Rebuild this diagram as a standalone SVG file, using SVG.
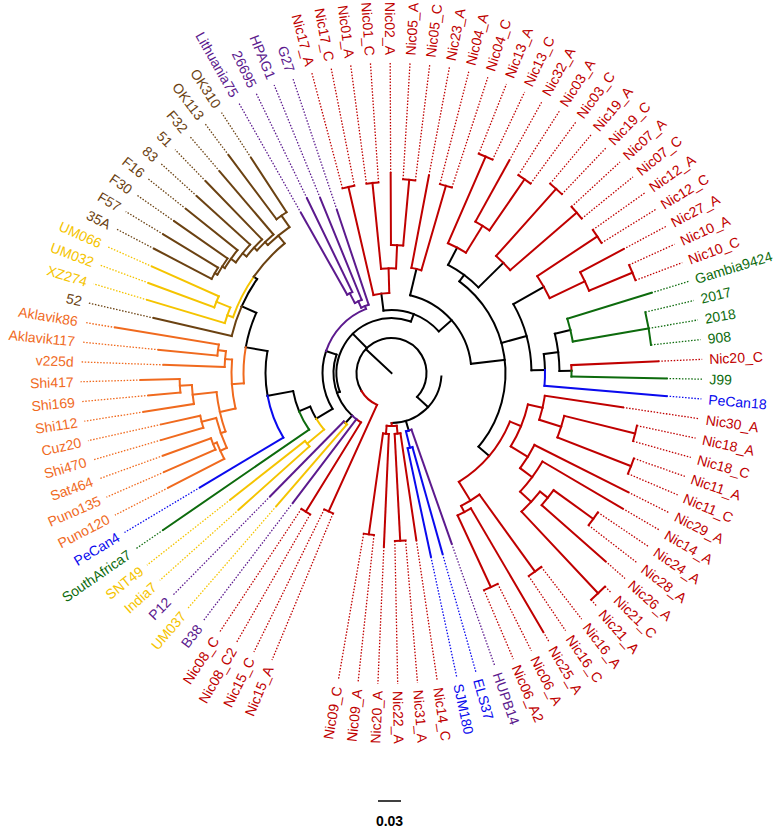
<svg xmlns="http://www.w3.org/2000/svg" width="778" height="834" viewBox="0 0 778 834">
<style>
text{font-family:"Liberation Sans",Arial,Helvetica,sans-serif;font-size:14px}
.e{text-anchor:end}
#edges path,#edges circle{fill:none;stroke-width:2;stroke-linecap:square}
#edges .d path{stroke-width:1.3;stroke-linecap:butt;stroke-dasharray:1.5 1.6}
.b{stroke:#000}.r{stroke:#c00000}.p{stroke:#5c1a8e}.w{stroke:#6b4212}.y{stroke:#f5c400}.o{stroke:#f06a1e}.g{stroke:#0d6b0d}.u{stroke:#0a0aee}
.R{fill:#c00000}.P{fill:#5c1a8e}.W{fill:#6b4212}.Y{fill:#f5c400}.O{fill:#f06a1e}.G{fill:#0d6b0d}.U{fill:#0a0aee}
</style>
<rect width="778" height="834" fill="#fff"/>
<g transform="translate(391.5 373)">
<g id="edges">
<g class="d">
<g class="r">
<path d="M152 0H311" transform="rotate(-247.4)"/><path d="M152 0H311" transform="rotate(-243.75)"/><path d="M163 0H311" transform="rotate(-240.09)"/><path d="M163 0H311" transform="rotate(-236.44)"/>
<path d="M191 0H311" transform="rotate(-104.86)"/><path d="M191 0H311" transform="rotate(-101.2)"/><path d="M191 0H311" transform="rotate(-97.55)"/><path d="M191 0H311" transform="rotate(-93.89)"/><path d="M200 0H311" transform="rotate(-90.24)"/><path d="M194 0H311" transform="rotate(-86.58)"/><path d="M194 0H311" transform="rotate(-82.93)"/><path d="M201 0H311" transform="rotate(-79.27)"/><path d="M195 0H311" transform="rotate(-75.62)"/><path d="M195 0H311" transform="rotate(-71.96)"/>
<path d="M236 0H311" transform="rotate(-68.31)"/><path d="M236 0H311" transform="rotate(-64.65)"/><path d="M243 0H311" transform="rotate(-61)"/><path d="M235 0H311" transform="rotate(-57.34)"/><path d="M235 0H311" transform="rotate(-53.69)"/><path d="M247 0H311" transform="rotate(-50.03)"/><path d="M247 0H311" transform="rotate(-46.38)"/><path d="M245 0H311" transform="rotate(-42.72)"/><path d="M245 0H311" transform="rotate(-39.07)"/><path d="M247 0H311" transform="rotate(-35.41)"/><path d="M247 0H311" transform="rotate(-31.76)"/><path d="M263 0H311" transform="rotate(-28.1)"/><path d="M261 0H311" transform="rotate(-24.45)"/><path d="M261 0H311" transform="rotate(-20.79)"/>
<path d="M267 0H311" transform="rotate(-2.52)"/>
<path d="M234 0H311" transform="rotate(8.45)"/><path d="M251 0H311" transform="rotate(12.1)"/><path d="M251 0H311" transform="rotate(15.76)"/><path d="M257 0H311" transform="rotate(19.41)"/><path d="M257 0H311" transform="rotate(23.07)"/><path d="M265 0H311" transform="rotate(26.72)"/><path d="M268 0H311" transform="rotate(30.38)"/><path d="M249 0H311" transform="rotate(34.03)"/><path d="M249 0H311" transform="rotate(37.69)"/><path d="M285 0H311" transform="rotate(41.34)"/><path d="M302 0H311" transform="rotate(45)"/><path d="M302 0H311" transform="rotate(48.65)"/><path d="M245 0H311" transform="rotate(52.31)"/><path d="M245 0H311" transform="rotate(55.96)"/><path d="M300 0H311" transform="rotate(59.62)"/><path d="M236 0H311" transform="rotate(63.27)"/><path d="M236 0H311" transform="rotate(66.93)"/>
<path d="M169 0H311" transform="rotate(81.55)"/><path d="M168 0H311" transform="rotate(85.2)"/><path d="M168 0H311" transform="rotate(88.86)"/><path d="M174 0H311" transform="rotate(92.51)"/><path d="M163 0H311" transform="rotate(96.17)"/><path d="M163 0H311" transform="rotate(99.82)"/>
</g>
<g class="p"><path d="M163 0H311" transform="rotate(-232.78)"/><path d="M173 0H311" transform="rotate(-225.47)"/><path d="M184 0H311" transform="rotate(-119.48)"/><path d="M194 0H311" transform="rotate(-115.82)"/><path d="M189 0H311" transform="rotate(-112.17)"/><path d="M172 0H311" transform="rotate(-108.51)"/><path d="M181 0H311" transform="rotate(70.58)"/></g>
<g class="y"><path d="M176 0H311" transform="rotate(-229.13)"/><path d="M205 0H311" transform="rotate(-221.82)"/><path d="M205 0H311" transform="rotate(-218.16)"/><path d="M255 0H311" transform="rotate(-163.34)"/><path d="M259 0H311" transform="rotate(-159.68)"/><path d="M262 0H311" transform="rotate(-156.03)"/></g>
<g class="g"><path d="M277 0H311" transform="rotate(-214.51)"/><path d="M272 0H311" transform="rotate(-17.14)"/><path d="M261 0H311" transform="rotate(-13.48)"/><path d="M261 0H311" transform="rotate(-9.83)"/><path d="M261 0H311" transform="rotate(-6.17)"/><path d="M275 0H311" transform="rotate(1.14)"/></g>
<g class="u"><path d="M223 0H311" transform="rotate(-210.85)"/><path d="M276 0H311" transform="rotate(4.79)"/><path d="M188 0H311" transform="rotate(74.24)"/><path d="M188 0H311" transform="rotate(77.89)"/></g>
<g class="o"><path d="M251 0H311" transform="rotate(-207.2)"/><path d="M248 0H311" transform="rotate(-203.54)"/><path d="M243 0H311" transform="rotate(-199.89)"/><path d="M240 0H311" transform="rotate(-196.23)"/><path d="M236 0H311" transform="rotate(-192.58)"/><path d="M251 0H311" transform="rotate(-188.92)"/><path d="M244 0H311" transform="rotate(-185.27)"/><path d="M251 0H311" transform="rotate(-181.61)"/><path d="M228 0H311" transform="rotate(-177.96)"/><path d="M234 0H311" transform="rotate(-174.3)"/><path d="M280 0H311" transform="rotate(-170.65)"/></g>
<g class="w"><path d="M244 0H311" transform="rotate(-166.99)"/><path d="M268 0H311" transform="rotate(-152.37)"/><path d="M267 0H311" transform="rotate(-148.72)"/><path d="M265 0H311" transform="rotate(-145.06)"/><path d="M263 0H311" transform="rotate(-141.41)"/><path d="M263 0H311" transform="rotate(-137.75)"/><path d="M267 0H311" transform="rotate(-134.1)"/><path d="M265 0H311" transform="rotate(-130.44)"/><path d="M272 0H311" transform="rotate(-126.79)"/><path d="M257 0H311" transform="rotate(-123.13)"/></g>
</g>
<g class="b">
<path d="M0 0H35" transform="rotate(-137)"/>
<circle r="35" pathLength="360" stroke-dasharray="253.7 999" transform="rotate(-210.7)"/>
<path d="M35 0H55" transform="rotate(-134.65)"/>
<circle r="55" pathLength="360" stroke-dasharray="130.7 999" transform="rotate(-200)"/>
<path d="M55 0H58" transform="rotate(-200)"/>
<circle r="58" pathLength="360" stroke-dasharray="65.8 999" transform="rotate(-227.3)"/>
<path d="M58 0H68" transform="rotate(-227.3)"/>
<path d="M58 0H69" transform="rotate(-161.5)"/>
<circle r="69" pathLength="360" stroke-dasharray="49.75 999" transform="rotate(-211.25)"/>
<path d="M69 0H88" transform="rotate(-211.25)"/>
<circle r="88" pathLength="360" stroke-dasharray="8.79 999" transform="rotate(-211.25)"/>
<path d="M88 0H100" transform="rotate(-202.46)"/>
<circle r="100" pathLength="360" stroke-dasharray="12.06 999" transform="rotate(-202.46)"/>
<path d="M100 0H126" transform="rotate(-190.4)"/>
<circle r="126" pathLength="360" stroke-dasharray="20.4 999" transform="rotate(-190.4)"/>
<path d="M126 0H148" transform="rotate(-170)"/>
<circle r="148" pathLength="360" stroke-dasharray="14 999" transform="rotate(-170)"/>
<path d="M148 0H164" transform="rotate(-156)"/>
<circle r="164" pathLength="360" stroke-dasharray="10.95 999" transform="rotate(-156)"/>
<path d="M164 0H168" transform="rotate(-145.05)"/>
<path d="M55 0H63" transform="rotate(-69.3)"/>
<circle r="63" pathLength="360" stroke-dasharray="56 999" transform="rotate(-97.3)"/>
<path d="M63 0H80" transform="rotate(-97.3)"/>
<path d="M63 0H80" transform="rotate(-41.3)"/>
<circle r="80" pathLength="360" stroke-dasharray="69.93 999" transform="rotate(-76.53)"/>
<path d="M80 0H107" transform="rotate(-76.53)"/>
<path d="M80 0H114" transform="rotate(-6.6)"/>
<circle r="114" pathLength="360" stroke-dasharray="93.76 999" transform="rotate(-53.46)"/>
<path d="M114 0H122" transform="rotate(-53.46)"/>
<circle r="122" pathLength="360" stroke-dasharray="17.82 999" transform="rotate(-62.37)"/>
<path d="M122 0H141.5" transform="rotate(-62.37)"/>
<path d="M122 0H157" transform="rotate(-44.55)"/>
<path d="M114 0H140" transform="rotate(-15.3)"/>
<circle r="140" pathLength="360" stroke-dasharray="28.32 999" transform="rotate(-29.47)"/>
<path d="M140 0H175" transform="rotate(-29.47)"/>
<path d="M140 0H153.5" transform="rotate(-1.15)"/>
<circle r="153.5" pathLength="360" stroke-dasharray="5.95 999" transform="rotate(-7.1)"/>
<path d="M153.5 0H168" transform="rotate(-7.1)"/>
<circle r="168" pathLength="360" stroke-dasharray="12.81 999" transform="rotate(-13.5)"/>
<path d="M168 0H184" transform="rotate(-13.5)"/>
<path d="M168 0H180" transform="rotate(-0.69)"/>
<path d="M114 0H128" transform="rotate(40.3)"/>
<path d="M35 0H50" transform="rotate(43)"/>
<circle r="50" pathLength="360" stroke-dasharray="85.8 999" transform="rotate(4)"/>
<path d="M50 0H60" transform="rotate(73.3)"/>
</g>
<g class="r">
<circle r="35" pathLength="360" stroke-dasharray="34.88 999" transform="rotate(-245.58)"/>
<path d="M35 0H152" transform="rotate(-245.58)"/>
<circle r="152" pathLength="360" stroke-dasharray="3.65 999" transform="rotate(-247.4)"/>
<circle r="58" pathLength="360" stroke-dasharray="5.49 999" transform="rotate(-238.27)"/>
<path d="M58 0H163" transform="rotate(-238.27)"/>
<circle r="163" pathLength="360" stroke-dasharray="3.65 999" transform="rotate(-240.09)"/>
<circle r="80" pathLength="360" stroke-dasharray="11.43 999" transform="rotate(-103.03)"/>
<path d="M80 0H191" transform="rotate(-103.03)"/>
<circle r="191" pathLength="360" stroke-dasharray="3.66 999" transform="rotate(-104.86)"/>
<path d="M80 0H104.7" transform="rotate(-91.6)"/>
<circle r="104.7" pathLength="360" stroke-dasharray="8.22 999" transform="rotate(-95.72)"/>
<path d="M104.7 0H191" transform="rotate(-95.72)"/>
<circle r="191" pathLength="360" stroke-dasharray="3.66 999" transform="rotate(-97.55)"/>
<path d="M104.7 0H128" transform="rotate(-87.5)"/>
<circle r="128" pathLength="360" stroke-dasharray="5.48 999" transform="rotate(-90.24)"/>
<path d="M128 0H200" transform="rotate(-90.24)"/>
<path d="M128 0H194" transform="rotate(-84.76)"/>
<circle r="194" pathLength="360" stroke-dasharray="3.65 999" transform="rotate(-86.58)"/>
<circle r="107" pathLength="360" stroke-dasharray="5.48 999" transform="rotate(-79.27)"/>
<path d="M107 0H201" transform="rotate(-79.27)"/>
<path d="M107 0H195" transform="rotate(-73.79)"/>
<circle r="195" pathLength="360" stroke-dasharray="3.66 999" transform="rotate(-75.62)"/>
<circle r="141.5" pathLength="360" stroke-dasharray="8.22 999" transform="rotate(-66.48)"/>
<path d="M141.5 0H236" transform="rotate(-66.48)"/>
<circle r="236" pathLength="360" stroke-dasharray="3.66 999" transform="rotate(-68.31)"/>
<path d="M141.5 0H173" transform="rotate(-58.26)"/>
<circle r="173" pathLength="360" stroke-dasharray="5.48 999" transform="rotate(-61)"/>
<path d="M173 0H243" transform="rotate(-61)"/>
<path d="M173 0H235" transform="rotate(-55.52)"/>
<circle r="235" pathLength="360" stroke-dasharray="3.65 999" transform="rotate(-57.34)"/>
<circle r="157" pathLength="360" stroke-dasharray="7.31 999" transform="rotate(-48.21)"/>
<path d="M157 0H247" transform="rotate(-48.21)"/>
<circle r="247" pathLength="360" stroke-dasharray="3.65 999" transform="rotate(-50.03)"/>
<path d="M157 0H245" transform="rotate(-40.9)"/>
<circle r="245" pathLength="360" stroke-dasharray="3.65 999" transform="rotate(-42.72)"/>
<circle r="175" pathLength="360" stroke-dasharray="8.22 999" transform="rotate(-33.58)"/>
<path d="M175 0H247" transform="rotate(-33.58)"/>
<circle r="247" pathLength="360" stroke-dasharray="3.65 999" transform="rotate(-35.41)"/>
<path d="M175 0H214" transform="rotate(-25.36)"/>
<circle r="214" pathLength="360" stroke-dasharray="5.48 999" transform="rotate(-28.1)"/>
<path d="M214 0H263" transform="rotate(-28.1)"/>
<path d="M214 0H261" transform="rotate(-22.62)"/>
<circle r="261" pathLength="360" stroke-dasharray="3.66 999" transform="rotate(-24.45)"/>
<circle r="180" pathLength="360" stroke-dasharray="1.83 999" transform="rotate(-2.52)"/>
<path d="M180 0H267" transform="rotate(-2.52)"/>
<circle r="128" pathLength="360" stroke-dasharray="35.95 999" transform="rotate(22.3)"/>
<path d="M128 0H140" transform="rotate(22.3)"/>
<circle r="140" pathLength="360" stroke-dasharray="18.6 999" transform="rotate(13)"/>
<path d="M140 0H155" transform="rotate(13)"/>
<circle r="155" pathLength="360" stroke-dasharray="9.13 999" transform="rotate(8.45)"/>
<path d="M155 0H234" transform="rotate(8.45)"/>
<path d="M155 0H178" transform="rotate(17.58)"/>
<circle r="178" pathLength="360" stroke-dasharray="7.31 999" transform="rotate(13.93)"/>
<path d="M178 0H251" transform="rotate(13.93)"/>
<circle r="251" pathLength="360" stroke-dasharray="3.66 999" transform="rotate(12.1)"/>
<path d="M178 0H257" transform="rotate(21.24)"/>
<circle r="257" pathLength="360" stroke-dasharray="3.66 999" transform="rotate(19.41)"/>
<path d="M140 0H160" transform="rotate(31.6)"/>
<circle r="160" pathLength="360" stroke-dasharray="9.78 999" transform="rotate(26.72)"/>
<path d="M160 0H265" transform="rotate(26.72)"/>
<path d="M160 0H175" transform="rotate(36.5)"/>
<circle r="175" pathLength="360" stroke-dasharray="12.32 999" transform="rotate(30.38)"/>
<path d="M175 0H268" transform="rotate(30.38)"/>
<path d="M175 0H190" transform="rotate(42.7)"/>
<circle r="190" pathLength="360" stroke-dasharray="8.23 999" transform="rotate(38.6)"/>
<path d="M190 0H302" transform="rotate(46.83)"/>
<circle r="302" pathLength="360" stroke-dasharray="3.65 999" transform="rotate(45)"/>
<path d="M190 0H200" transform="rotate(38.6)"/>
<circle r="200" pathLength="360" stroke-dasharray="5.48 999" transform="rotate(35.86)"/>
<path d="M200 0H249" transform="rotate(35.86)"/>
<circle r="249" pathLength="360" stroke-dasharray="3.66 999" transform="rotate(34.03)"/>
<path d="M200 0H285" transform="rotate(41.34)"/>
<path d="M128 0H150" transform="rotate(58.25)"/>
<circle r="150" pathLength="360" stroke-dasharray="8.22 999" transform="rotate(54.14)"/>
<path d="M150 0H245" transform="rotate(54.14)"/>
<circle r="245" pathLength="360" stroke-dasharray="3.65 999" transform="rotate(52.31)"/>
<path d="M150 0H157" transform="rotate(62.36)"/>
<circle r="157" pathLength="360" stroke-dasharray="5.48 999" transform="rotate(59.62)"/>
<path d="M157 0H300" transform="rotate(59.62)"/>
<path d="M157 0H236" transform="rotate(65.1)"/>
<circle r="236" pathLength="360" stroke-dasharray="3.66 999" transform="rotate(63.27)"/>
<path d="M50 0H53" transform="rotate(89.8)"/>
<circle r="53" pathLength="360" stroke-dasharray="10.95 999" transform="rotate(84.3)"/>
<path d="M53 0H61" transform="rotate(95.25)"/>
<circle r="61" pathLength="360" stroke-dasharray="5.49 999" transform="rotate(92.51)"/>
<path d="M61 0H174" transform="rotate(92.51)"/>
<path d="M61 0H163" transform="rotate(98)"/>
<circle r="163" pathLength="360" stroke-dasharray="3.65 999" transform="rotate(96.17)"/>
<path d="M53 0H61" transform="rotate(84.3)"/>
<circle r="61" pathLength="360" stroke-dasharray="5.48 999" transform="rotate(81.55)"/>
<path d="M61 0H169" transform="rotate(81.55)"/>
<path d="M61 0H168" transform="rotate(87.03)"/>
<circle r="168" pathLength="360" stroke-dasharray="3.66 999" transform="rotate(85.2)"/>
</g>
<g class="p">
<circle r="58" pathLength="360" stroke-dasharray="5.48 999" transform="rotate(-232.78)"/>
<path d="M58 0H163" transform="rotate(-232.78)"/>
<circle r="68" pathLength="360" stroke-dasharray="1.83 999" transform="rotate(-227.3)"/>
<path d="M68 0H173" transform="rotate(-225.47)"/>
<circle r="69" pathLength="360" stroke-dasharray="49.8 999" transform="rotate(-161.5)"/>
<path d="M69 0H72" transform="rotate(-111.7)"/>
<circle r="72" pathLength="360" stroke-dasharray="6.39 999" transform="rotate(-114.9)"/>
<path d="M72 0H172" transform="rotate(-108.51)"/>
<path d="M72 0H79" transform="rotate(-114.9)"/>
<circle r="79" pathLength="360" stroke-dasharray="5.48 999" transform="rotate(-117.65)"/>
<path d="M79 0H189" transform="rotate(-112.17)"/>
<path d="M79 0H90" transform="rotate(-117.65)"/>
<circle r="90" pathLength="360" stroke-dasharray="3.66 999" transform="rotate(-119.48)"/>
<path d="M90 0H184" transform="rotate(-119.48)"/>
<path d="M90 0H194" transform="rotate(-115.82)"/>
<circle r="60" pathLength="360" stroke-dasharray="2.72 999" transform="rotate(70.58)"/>
<path d="M60 0H181" transform="rotate(70.58)"/>
</g>
<g class="y">
<circle r="68" pathLength="360" stroke-dasharray="1.83 999" transform="rotate(-229.13)"/>
<path d="M68 0H176" transform="rotate(-229.13)"/>
<circle r="88" pathLength="360" stroke-dasharray="8.74 999" transform="rotate(-219.99)"/>
<path d="M88 0H110" transform="rotate(-219.99)"/>
<circle r="110" pathLength="360" stroke-dasharray="3.66 999" transform="rotate(-221.82)"/>
<path d="M110 0H205" transform="rotate(-221.82)"/>
<path d="M110 0H205" transform="rotate(-218.16)"/>
<circle r="168" pathLength="360" stroke-dasharray="15.55 999" transform="rotate(-160.6)"/>
<path d="M168 0H174" transform="rotate(-160.6)"/>
<circle r="174" pathLength="360" stroke-dasharray="5.48 999" transform="rotate(-163.34)"/>
<path d="M174 0H255" transform="rotate(-163.34)"/>
<path d="M174 0H189" transform="rotate(-157.86)"/>
<circle r="189" pathLength="360" stroke-dasharray="3.65 999" transform="rotate(-159.68)"/>
<path d="M189 0H259" transform="rotate(-159.68)"/>
<path d="M189 0H262" transform="rotate(-156.03)"/>
</g>
<g class="g">
<circle r="100" pathLength="360" stroke-dasharray="12.05 999" transform="rotate(-214.51)"/>
<path d="M100 0H277" transform="rotate(-214.51)"/>
<circle r="184" pathLength="360" stroke-dasharray="7.31 999" transform="rotate(-17.14)"/>
<path d="M184 0H272" transform="rotate(-17.14)"/>
<path d="M184 0H261" transform="rotate(-9.83)"/>
<circle r="261" pathLength="360" stroke-dasharray="7.31 999" transform="rotate(-13.48)"/>
<circle r="180" pathLength="360" stroke-dasharray="1.83 999" transform="rotate(-0.69)"/>
<path d="M180 0H275" transform="rotate(1.14)"/>
</g>
<g class="u">
<circle r="126" pathLength="360" stroke-dasharray="20.45 999" transform="rotate(-210.85)"/>
<path d="M126 0H223" transform="rotate(-210.85)"/>
<circle r="153.5" pathLength="360" stroke-dasharray="5.94 999" transform="rotate(-1.15)"/>
<path d="M153.5 0H276" transform="rotate(4.79)"/>
<circle r="60" pathLength="360" stroke-dasharray="2.77 999" transform="rotate(73.3)"/>
<path d="M60 0H77" transform="rotate(76.07)"/>
<circle r="77" pathLength="360" stroke-dasharray="3.65 999" transform="rotate(74.24)"/>
<path d="M77 0H188" transform="rotate(74.24)"/>
<path d="M77 0H188" transform="rotate(77.89)"/>
</g>
<g class="o">
<circle r="148" pathLength="360" stroke-dasharray="14 999" transform="rotate(-184)"/>
<path d="M148 0H160" transform="rotate(-184)"/>
<circle r="160" pathLength="360" stroke-dasharray="17.6 999" transform="rotate(-192.8)"/>
<path d="M160 0H176" transform="rotate(-192.8)"/>
<circle r="176" pathLength="360" stroke-dasharray="13.2 999" transform="rotate(-199.4)"/>
<path d="M176 0H181" transform="rotate(-199.4)"/>
<circle r="181" pathLength="360" stroke-dasharray="10.05 999" transform="rotate(-204.45)"/>
<path d="M181 0H188" transform="rotate(-204.45)"/>
<circle r="188" pathLength="360" stroke-dasharray="5.5 999" transform="rotate(-207.2)"/>
<path d="M188 0H251" transform="rotate(-207.2)"/>
<path d="M188 0H192" transform="rotate(-201.7)"/>
<circle r="192" pathLength="360" stroke-dasharray="3.65 999" transform="rotate(-203.54)"/>
<path d="M192 0H248" transform="rotate(-203.54)"/>
<path d="M192 0H243" transform="rotate(-199.89)"/>
<path d="M181 0H196" transform="rotate(-194.4)"/>
<circle r="196" pathLength="360" stroke-dasharray="3.65 999" transform="rotate(-196.23)"/>
<path d="M196 0H240" transform="rotate(-196.23)"/>
<path d="M196 0H236" transform="rotate(-192.58)"/>
<path d="M176 0H200" transform="rotate(-186.2)"/>
<circle r="200" pathLength="360" stroke-dasharray="5.48 999" transform="rotate(-188.92)"/>
<path d="M200 0H251" transform="rotate(-188.92)"/>
<path d="M200 0H212" transform="rotate(-183.44)"/>
<circle r="212" pathLength="360" stroke-dasharray="3.66 999" transform="rotate(-185.27)"/>
<path d="M212 0H244" transform="rotate(-185.27)"/>
<path d="M212 0H251" transform="rotate(-181.61)"/>
<path d="M160 0H167" transform="rotate(-175.2)"/>
<circle r="167" pathLength="360" stroke-dasharray="5.46 999" transform="rotate(-177.96)"/>
<path d="M167 0H228" transform="rotate(-177.96)"/>
<path d="M167 0H175" transform="rotate(-172.5)"/>
<circle r="175" pathLength="360" stroke-dasharray="3.65 999" transform="rotate(-174.3)"/>
<path d="M175 0H234" transform="rotate(-174.3)"/>
<path d="M175 0H280" transform="rotate(-170.65)"/>
</g>
<g class="w">
<circle r="164" pathLength="360" stroke-dasharray="10.99 999" transform="rotate(-166.99)"/>
<path d="M164 0H244" transform="rotate(-166.99)"/>
<circle r="168" pathLength="360" stroke-dasharray="15.55 999" transform="rotate(-145.05)"/>
<path d="M168 0H178" transform="rotate(-129.5)"/>
<circle r="178" pathLength="360" stroke-dasharray="9.04 999" transform="rotate(-134)"/>
<path d="M178 0H192" transform="rotate(-124.96)"/>
<circle r="192" pathLength="360" stroke-dasharray="3.66 999" transform="rotate(-126.79)"/>
<path d="M192 0H272" transform="rotate(-126.79)"/>
<path d="M192 0H257" transform="rotate(-123.13)"/>
<path d="M178 0H182" transform="rotate(-134)"/>
<circle r="182" pathLength="360" stroke-dasharray="7.21 999" transform="rotate(-137.65)"/>
<path d="M182 0H265" transform="rotate(-130.44)"/>
<path d="M182 0H186" transform="rotate(-137.65)"/>
<circle r="186" pathLength="360" stroke-dasharray="7.1 999" transform="rotate(-141.2)"/>
<path d="M186 0H267" transform="rotate(-134.1)"/>
<path d="M186 0H191" transform="rotate(-141.2)"/>
<circle r="191" pathLength="360" stroke-dasharray="6.85 999" transform="rotate(-144.6)"/>
<path d="M191 0H263" transform="rotate(-137.75)"/>
<path d="M191 0H197" transform="rotate(-144.6)"/>
<circle r="197" pathLength="360" stroke-dasharray="6.39 999" transform="rotate(-147.8)"/>
<path d="M197 0H263" transform="rotate(-141.41)"/>
<path d="M197 0H200" transform="rotate(-147.8)"/>
<circle r="200" pathLength="360" stroke-dasharray="5.49 999" transform="rotate(-150.55)"/>
<path d="M200 0H265" transform="rotate(-145.06)"/>
<path d="M200 0H203" transform="rotate(-150.55)"/>
<circle r="203" pathLength="360" stroke-dasharray="3.65 999" transform="rotate(-152.37)"/>
<path d="M203 0H268" transform="rotate(-152.37)"/>
<path d="M203 0H267" transform="rotate(-148.72)"/>
</g>
</g>
<g id="labels">
<g id="t-Nic15_A"><text class="R e" transform="rotate(-67.4)" x="-318" dy="5">Nic15_A</text></g>
<g id="t-Nic15_C"><text class="R e" transform="rotate(-63.75)" x="-318" dy="5">Nic15_C</text></g>
<g id="t-Nic08_C2"><text class="R e" transform="rotate(-60.09)" x="-318" dy="5">Nic08_C2</text></g>
<g id="t-Nic08_C"><text class="R e" transform="rotate(-56.44)" x="-318" dy="5">Nic08_C</text></g>
<g id="t-B38"><text class="P e" transform="rotate(-52.78)" x="-318" dy="5">B38</text></g>
<g id="t-UM037"><text class="Y e" transform="rotate(-49.13)" x="-318" dy="5">UM037</text></g>
<g id="t-P12"><text class="P e" transform="rotate(-45.47)" x="-318" dy="5">P12</text></g>
<g id="t-India7"><text class="Y e" transform="rotate(-41.82)" x="-318" dy="5">India7</text></g>
<g id="t-SNT49"><text class="Y e" transform="rotate(-38.16)" x="-318" dy="5">SNT49</text></g>
<g id="t-SouthAfrica7"><text class="G e" transform="rotate(-34.51)" x="-318" dy="5">SouthAfrica7</text></g>
<g id="t-PeCan4"><text class="U e" transform="rotate(-30.85)" x="-318" dy="5">PeCan4</text></g>
<g id="t-Puno120"><text class="O e" transform="rotate(-27.2)" x="-318" dy="5">Puno120</text></g>
<g id="t-Puno135"><text class="O e" transform="rotate(-23.54)" x="-318" dy="5">Puno135</text></g>
<g id="t-Sat464"><text class="O e" transform="rotate(-19.89)" x="-318" dy="5">Sat464</text></g>
<g id="t-Shi470"><text class="O e" transform="rotate(-16.23)" x="-318" dy="5">Shi470</text></g>
<g id="t-Cuz20"><text class="O e" transform="rotate(-12.58)" x="-318" dy="5">Cuz20</text></g>
<g id="t-Shi112"><text class="O e" transform="rotate(-8.92)" x="-318" dy="5">Shi112</text></g>
<g id="t-Shi169"><text class="O e" transform="rotate(-5.27)" x="-318" dy="5">Shi169</text></g>
<g id="t-Shi417"><text class="O e" transform="rotate(-1.61)" x="-318" dy="5">Shi417</text></g>
<g id="t-v225d"><text class="O e" transform="rotate(2.04)" x="-318" dy="5">v225d</text></g>
<g id="t-Aklavik117"><text class="O e" transform="rotate(5.7)" x="-318" dy="5">Aklavik117</text></g>
<g id="t-Aklavik86"><text class="O e" transform="rotate(9.35)" x="-318" dy="5">Aklavik86</text></g>
<g id="t-52"><text class="W e" transform="rotate(13.01)" x="-318" dy="5">52</text></g>
<g id="t-XZ274"><text class="Y e" transform="rotate(16.66)" x="-318" dy="5">XZ274</text></g>
<g id="t-UM032"><text class="Y e" transform="rotate(20.32)" x="-318" dy="5">UM032</text></g>
<g id="t-UM066"><text class="Y e" transform="rotate(23.97)" x="-318" dy="5">UM066</text></g>
<g id="t-35A"><text class="W e" transform="rotate(27.63)" x="-318" dy="5">35A</text></g>
<g id="t-F57"><text class="W e" transform="rotate(31.28)" x="-318" dy="5">F57</text></g>
<g id="t-F30"><text class="W e" transform="rotate(34.94)" x="-318" dy="5">F30</text></g>
<g id="t-F16"><text class="W e" transform="rotate(38.59)" x="-318" dy="5">F16</text></g>
<g id="t-83"><text class="W e" transform="rotate(42.25)" x="-318" dy="5">83</text></g>
<g id="t-51"><text class="W e" transform="rotate(45.9)" x="-318" dy="5">51</text></g>
<g id="t-F32"><text class="W e" transform="rotate(49.56)" x="-318" dy="5">F32</text></g>
<g id="t-OK113"><text class="W e" transform="rotate(53.21)" x="-318" dy="5">OK113</text></g>
<g id="t-OK310"><text class="W e" transform="rotate(56.87)" x="-318" dy="5">OK310</text></g>
<g id="t-Lithuania75"><text class="P e" transform="rotate(60.52)" x="-318" dy="5">Lithuania75</text></g>
<g id="t-26695"><text class="P e" transform="rotate(64.18)" x="-318" dy="5">26695</text></g>
<g id="t-HPAG1"><text class="P e" transform="rotate(67.83)" x="-318" dy="5">HPAG1</text></g>
<g id="t-G27"><text class="P e" transform="rotate(71.49)" x="-318" dy="5">G27</text></g>
<g id="t-Nic17_A"><text class="R e" transform="rotate(75.14)" x="-318" dy="5">Nic17_A</text></g>
<g id="t-Nic17_C"><text class="R e" transform="rotate(78.8)" x="-318" dy="5">Nic17_C</text></g>
<g id="t-Nic01_A"><text class="R e" transform="rotate(82.45)" x="-318" dy="5">Nic01_A</text></g>
<g id="t-Nic01_C"><text class="R e" transform="rotate(86.11)" x="-318" dy="5">Nic01_C</text></g>
<g id="t-Nic02_A"><text class="R e" transform="rotate(89.76)" x="-318" dy="5">Nic02_A</text></g>
<g id="t-Nic05_A"><text class="R" transform="rotate(-86.58)" x="318" dy="5">Nic05_A</text></g>
<g id="t-Nic05_C"><text class="R" transform="rotate(-82.93)" x="318" dy="5">Nic05_C</text></g>
<g id="t-Nic23_A"><text class="R" transform="rotate(-79.27)" x="318" dy="5">Nic23_A</text></g>
<g id="t-Nic04_A"><text class="R" transform="rotate(-75.62)" x="318" dy="5">Nic04_A</text></g>
<g id="t-Nic04_C"><text class="R" transform="rotate(-71.96)" x="318" dy="5">Nic04_C</text></g>
<g id="t-Nic13_A"><text class="R" transform="rotate(-68.31)" x="318" dy="5">Nic13_A</text></g>
<g id="t-Nic13_C"><text class="R" transform="rotate(-64.65)" x="318" dy="5">Nic13_C</text></g>
<g id="t-Nic32_A"><text class="R" transform="rotate(-61)" x="318" dy="5">Nic32_A</text></g>
<g id="t-Nic03_A"><text class="R" transform="rotate(-57.34)" x="318" dy="5">Nic03_A</text></g>
<g id="t-Nic03_C"><text class="R" transform="rotate(-53.69)" x="318" dy="5">Nic03_C</text></g>
<g id="t-Nic19_A"><text class="R" transform="rotate(-50.03)" x="318" dy="5">Nic19_A</text></g>
<g id="t-Nic19_C"><text class="R" transform="rotate(-46.38)" x="318" dy="5">Nic19_C</text></g>
<g id="t-Nic07_A"><text class="R" transform="rotate(-42.72)" x="318" dy="5">Nic07_A</text></g>
<g id="t-Nic07_C"><text class="R" transform="rotate(-39.07)" x="318" dy="5">Nic07_C</text></g>
<g id="t-Nic12_A"><text class="R" transform="rotate(-35.41)" x="318" dy="5">Nic12_A</text></g>
<g id="t-Nic12_C"><text class="R" transform="rotate(-31.76)" x="318" dy="5">Nic12_C</text></g>
<g id="t-Nic27_A"><text class="R" transform="rotate(-28.1)" x="318" dy="5">Nic27_A</text></g>
<g id="t-Nic10_A"><text class="R" transform="rotate(-24.45)" x="318" dy="5">Nic10_A</text></g>
<g id="t-Nic10_C"><text class="R" transform="rotate(-20.79)" x="318" dy="5">Nic10_C</text></g>
<g id="t-Gambia9424"><text class="G" transform="rotate(-17.14)" x="318" dy="5">Gambia9424</text></g>
<g id="t-2017"><text class="G" transform="rotate(-13.48)" x="318" dy="5">2017</text></g>
<g id="t-2018"><text class="G" transform="rotate(-9.83)" x="318" dy="5">2018</text></g>
<g id="t-908"><text class="G" transform="rotate(-6.17)" x="318" dy="5">908</text></g>
<g id="t-Nic20_C"><text class="R" transform="rotate(-2.52)" x="318" dy="5">Nic20_C</text></g>
<g id="t-J99"><text class="G" transform="rotate(1.14)" x="318" dy="5">J99</text></g>
<g id="t-PeCan18"><text class="U" transform="rotate(4.79)" x="318" dy="5">PeCan18</text></g>
<g id="t-Nic30_A"><text class="R" transform="rotate(8.45)" x="318" dy="5">Nic30_A</text></g>
<g id="t-Nic18_A"><text class="R" transform="rotate(12.1)" x="318" dy="5">Nic18_A</text></g>
<g id="t-Nic18_C"><text class="R" transform="rotate(15.76)" x="318" dy="5">Nic18_C</text></g>
<g id="t-Nic11_A"><text class="R" transform="rotate(19.41)" x="318" dy="5">Nic11_A</text></g>
<g id="t-Nic11_C"><text class="R" transform="rotate(23.07)" x="318" dy="5">Nic11_C</text></g>
<g id="t-Nic29_A"><text class="R" transform="rotate(26.72)" x="318" dy="5">Nic29_A</text></g>
<g id="t-Nic14_A"><text class="R" transform="rotate(30.38)" x="318" dy="5">Nic14_A</text></g>
<g id="t-Nic24_A"><text class="R" transform="rotate(34.03)" x="318" dy="5">Nic24_A</text></g>
<g id="t-Nic28_A"><text class="R" transform="rotate(37.69)" x="318" dy="5">Nic28_A</text></g>
<g id="t-Nic26_A"><text class="R" transform="rotate(41.34)" x="318" dy="5">Nic26_A</text></g>
<g id="t-Nic21_C"><text class="R" transform="rotate(45)" x="318" dy="5">Nic21_C</text></g>
<g id="t-Nic21_A"><text class="R" transform="rotate(48.65)" x="318" dy="5">Nic21_A</text></g>
<g id="t-Nic16_A"><text class="R" transform="rotate(52.31)" x="318" dy="5">Nic16_A</text></g>
<g id="t-Nic16_C"><text class="R" transform="rotate(55.96)" x="318" dy="5">Nic16_C</text></g>
<g id="t-Nic25_A"><text class="R" transform="rotate(59.62)" x="318" dy="5">Nic25_A</text></g>
<g id="t-Nic06_A"><text class="R" transform="rotate(63.27)" x="318" dy="5">Nic06_A</text></g>
<g id="t-Nic06_A2"><text class="R" transform="rotate(66.93)" x="318" dy="5">Nic06_A2</text></g>
<g id="t-HUPB14"><text class="P" transform="rotate(70.58)" x="318" dy="5">HUPB14</text></g>
<g id="t-ELS37"><text class="U" transform="rotate(74.24)" x="318" dy="5">ELS37</text></g>
<g id="t-SJM180"><text class="U" transform="rotate(77.89)" x="318" dy="5">SJM180</text></g>
<g id="t-Nic14_C"><text class="R" transform="rotate(81.55)" x="318" dy="5">Nic14_C</text></g>
<g id="t-Nic31_A"><text class="R" transform="rotate(85.2)" x="318" dy="5">Nic31_A</text></g>
<g id="t-Nic22_A"><text class="R" transform="rotate(88.86)" x="318" dy="5">Nic22_A</text></g>
<g id="t-Nic20_A"><text class="R e" transform="rotate(-87.49)" x="-318" dy="5">Nic20_A</text></g>
<g id="t-Nic09_A"><text class="R e" transform="rotate(-83.83)" x="-318" dy="5">Nic09_A</text></g>
<g id="t-Nic09_C"><text class="R e" transform="rotate(-80.18)" x="-318" dy="5">Nic09_C</text></g>
</g>
</g>
<g id="scale"><path d="M378 801H401" stroke="#000" stroke-width="1.5"/><text x="389.5" y="826" text-anchor="middle" font-weight="bold" font-size="13">0.03</text></g>
</svg>
